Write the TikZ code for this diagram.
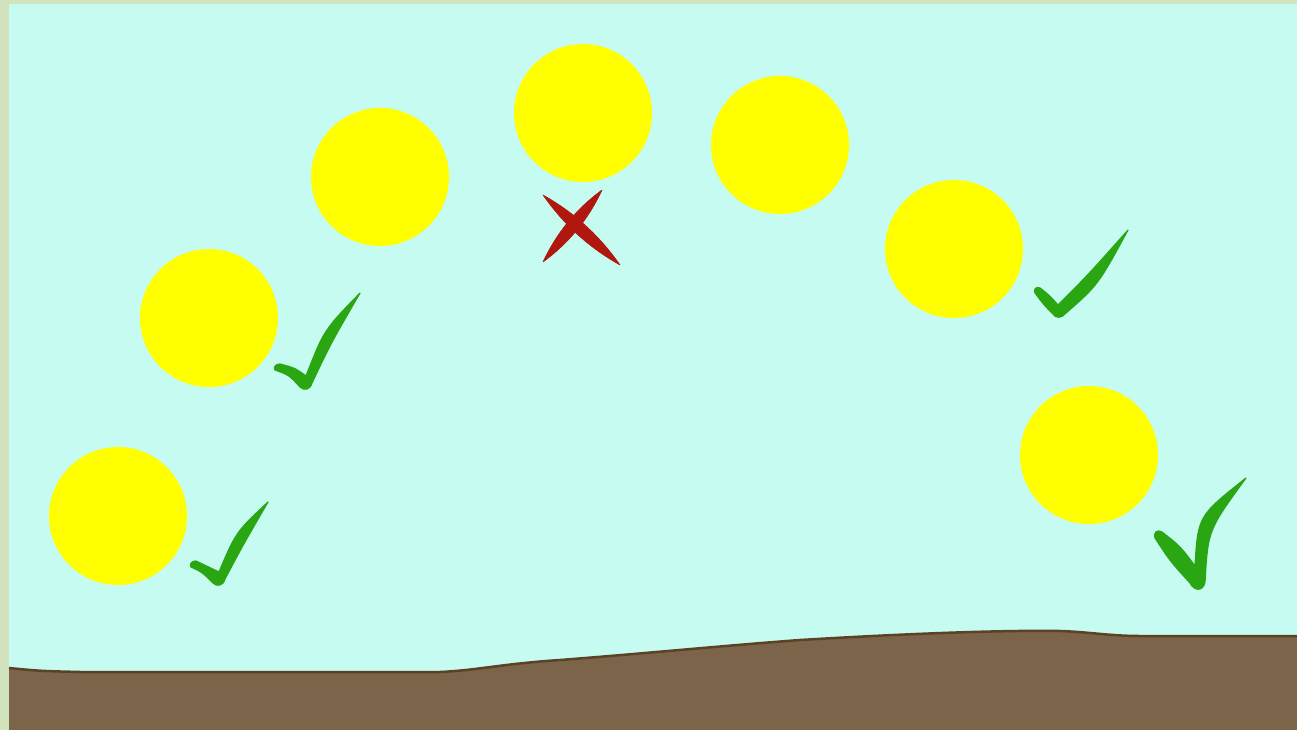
\documentclass[tikz,border=0pt]{standalone}
\usetikzlibrary{calc}
\definecolor{frame}{HTML}{D3E3BD}
\definecolor{sky}{HTML}{C6FBF1}
\definecolor{soil}{HTML}{7B6449}
\definecolor{soilline}{HTML}{5C4224}
\definecolor{tickgreen}{HTML}{2BA613}
\definecolor{crossred}{HTML}{B0170E}
\definecolor{coinyellow}{HTML}{FFFF00}
\tikzset{
  coin/.style={circle, fill=coinyellow, draw=none, minimum size=138pt, inner sep=0pt},
  tickmark/.style={fill=tickgreen, draw=tickgreen, line width=1.2pt, line join=round},
  crossmark/.style={fill=crossred, draw=crossred, line width=0.6pt, line join=round},
}
\begin{document}
\begin{tikzpicture}[x=1pt, y=-1pt]
\useasboundingbox (0,0) rectangle (1297,730);
% frame and sky
\fill[frame] (0,0) rectangle (1297,730);
\fill[sky] (9,4) rectangle (1297,730);
% ground
\fill[soil] (9,668) .. controls (40,671) .. (80,672) -- (440,672)
  .. controls (480,670) and (500,664) .. (560,660)
  .. controls (650,653) and (720,646) .. (800,640)
  .. controls (900,634) and (1000,630) .. (1060,631)
  .. controls (1090,632) and (1110,636) .. (1140,636) -- (1297,636)
  -- (1297,730) -- (9,730) -- cycle;
\draw[soilline, line width=2.5pt] (9,668) .. controls (40,671) .. (80,672) -- (440,672)
  .. controls (480,670) and (500,664) .. (560,660)
  .. controls (650,653) and (720,646) .. (800,640)
  .. controls (900,634) and (1000,630) .. (1060,631)
  .. controls (1090,632) and (1110,636) .. (1140,636) -- (1297,636);
% coins
\node[coin] (c1) at (118,516) {};
\node[coin] (c2) at (209,318) {};
\node[coin] (c3) at (380,177) {};
\node[coin] (c4) at (583,113) {};
\node[coin] (c5) at (780,145) {};
\node[coin] (c6) at (954,249) {};
\node[coin] (c7) at (1089,455) {};
% tick 1
\filldraw[tickmark] (191,567) .. controls (202,572) .. (213,583)
  .. controls (217,587) and (223,586) .. (225,579)
  .. controls (243,545) .. (268,502)
  .. controls (236,532) .. (219,572)
  .. controls (207,567) .. (196,561)
  .. controls (192,561) and (189,564) .. cycle;
% tick 2
\filldraw[tickmark] (275,370) .. controls (289,375) .. (300,387)
  .. controls (304,391) and (310,390) .. (312,383)
  .. controls (331,343) .. (360,293)
  .. controls (324,330) .. (306,376)
  .. controls (295,368) .. (280,364)
  .. controls (276,364) and (273,367) .. cycle;
% tick 3
\filldraw[tickmark] (1035,293) .. controls (1044,305) .. (1053,314)
  .. controls (1056,319) and (1062,318) .. (1066,313)
  .. controls (1098,285) .. (1128,230)
  .. controls (1088,275) .. (1058,305)
  .. controls (1049,295) .. (1040,288)
  .. controls (1036,286) and (1033,290) .. cycle;
% tick 4
\filldraw[tickmark] (1155,538) .. controls (1170,561) .. (1190,583)
  .. controls (1194,591) and (1203,592) .. (1205,582)
  .. controls (1208,530) .. (1246,478)
  .. controls (1198,516) .. (1195,566)
  .. controls (1180,546) .. (1162,532)
  .. controls (1157,529) and (1153,533) .. cycle;
% cross
\filldraw[crossmark] (543,195) .. controls (563.3,224.2) and (588.9,247.6) .. (620,265)
  .. controls (599.7,235.8) and (574.1,212.4) .. cycle;
\filldraw[crossmark] (602,190) .. controls (588.5,219.1) and (568.9,243.1) .. (543,262)
  .. controls (556.5,232.9) and (576.1,208.9) .. cycle;
\end{tikzpicture}
\end{document}
